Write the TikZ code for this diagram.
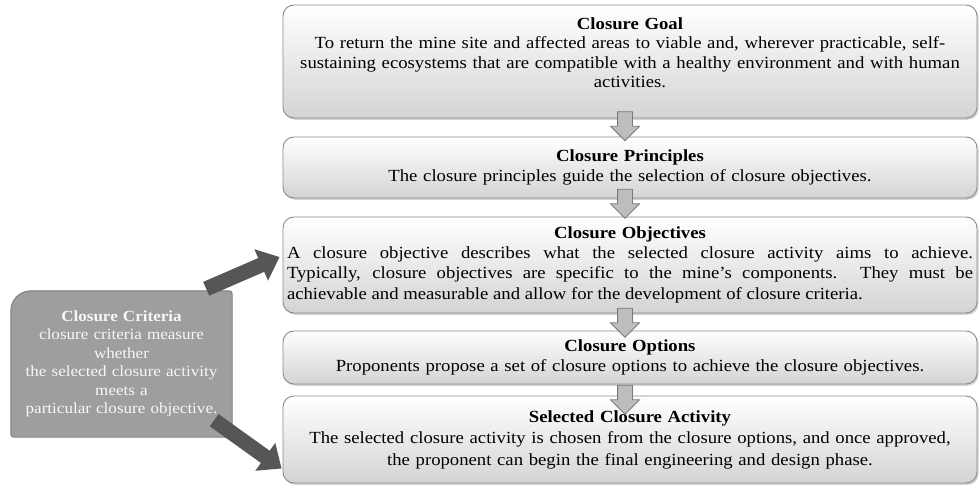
\documentclass[tikz,border=0pt]{standalone}
\usepackage{fontspec}
\setmainfont{Liberation Serif}[FakeStretch=1.1]
\usetikzlibrary{shapes.arrows,shadows,backgrounds,calc,arrows.meta}
\definecolor{boxline}{HTML}{8A8A8A}
\definecolor{critfill}{HTML}{9E9E9E}
\definecolor{critline}{HTML}{7C7C7C}
\definecolor{darkarr}{HTML}{565656}
\definecolor{downfill}{HTML}{BDBDBD}
\definecolor{downline}{HTML}{7A7A7A}
\begin{document}
\begin{tikzpicture}[x=1pt,y=-1pt,
  stagebox/.style={draw=boxline, line width=0.9pt, rounded corners=11pt,
    top color=white, bottom color=black!17,
    drop shadow={shadow xshift=1.5pt,shadow yshift=-1.8pt,opacity=0.35},
    inner sep=0pt, minimum width=694pt},
  bodytext/.style={inner sep=0pt, text width=688pt, align=center,
    font=\fontsize{17}{20.5}\selectfont},
  crittext/.style={inner sep=0pt, text width=219pt, align=center, text=black!3,
    font=\fontsize{15.5}{18.5}\selectfont},
  downarrow/.style={single arrow, draw=downline, fill=downfill, line width=0.8pt,
    shape border rotate=270, minimum height=29pt, minimum width=28pt,
    single arrow head extend=7pt, inner sep=7pt},
  bigarrow/.style={draw=darkarr, line width=15pt, -{Triangle[length=20pt,width=33pt]}}
]
\begin{pgfonlayer}{background}
\fill[white] (0,0) rectangle (979,486);
\end{pgfonlayer}
\useasboundingbox (0,0) rectangle (979,486);

% stage boxes
\node[stagebox, minimum height=113pt] (goal) at (630,61.5) {};
\node[stagebox, minimum height=61pt]  (prin) at (630,167.5) {};
\node[stagebox, minimum height=96pt]  (obj)  at (630,265) {};
\node[stagebox, minimum height=53pt]  (opt)  at (630,357.5) {};
\node[stagebox, minimum height=87pt]  (sel)  at (630,439.5) {};

% texts
\node[bodytext, font=\fontsize{17}{19.5}\selectfont] (goalt) at ($(goal.center)+(0,-9)$) {\textbf{Closure Goal}\\
To return the mine site and affected areas to viable and, wherever practicable, self-\\
sustaining ecosystems that are compatible with a healthy environment and with human\\
activities.};
\node[bodytext] (print) at (prin.center) {\textbf{Closure Principles}\\
The closure principles guide the selection of closure objectives.};
\node[bodytext] (objtitle) at ($(obj.north)+(0,18)$) {\textbf{Closure Objectives}};
\node[bodytext, align=justify, text width=686pt, anchor=north] (objt) at ($(objtitle.south)+(0,4)$) {A closure objective describes what the selected closure activity aims to achieve.\linebreak
Typically, closure objectives are specific to the mine's components. They must be\linebreak
achievable and measurable and allow for the development of closure criteria.};
\node[bodytext] (optt) at (opt.center) {\textbf{Closure Options}\\
Proponents propose a set of closure options to achieve the closure objectives.};
\node[bodytext, font=\fontsize{17}{21.5}\selectfont] (selt) at (sel.center) {\textbf{Selected Closure Activity}\\
The selected closure activity is chosen from the closure options, and once approved,\\
the proponent can begin the final engineering and design phase.};

% down arrows
\node[downarrow] (a1) at (625,122.5) {};
\node[downarrow] (a2) at (625,200) {};
\node[downarrow] (a3) at (625,319) {};
\node[downarrow] (a4) at (625,396) {};

% criteria box
\node[crittext, minimum width=221pt, minimum height=146pt] (crit) at (121.5,364) {\textbf{Closure Criteria}\\
closure criteria measure\\
whether\\
the selected closure activity\\
meets a\\
particular closure objective.};
\begin{pgfonlayer}{background}
\draw[fill=critfill, draw=critline, line width=0.9pt]
  (crit.south west) [rounded corners=20pt] -- (crit.north west)
  [rounded corners=3pt] -- (crit.north east) -- (crit.south east) -- cycle;
\end{pgfonlayer}

% criteria arrows
\coordinate (c1) at ($(crit.north east)+(-26,-2)$);
\coordinate (t1) at ($(obj.west)+(-3,-8)$);
\coordinate (c2) at ($(crit.south east)+(-18,-17)$);
\coordinate (t2) at ($(sel.west)+(-1,29)$);
\draw[bigarrow] (c1) -- (t1);
\draw[bigarrow] (c2) -- (t2);
\end{tikzpicture}
\end{document}
